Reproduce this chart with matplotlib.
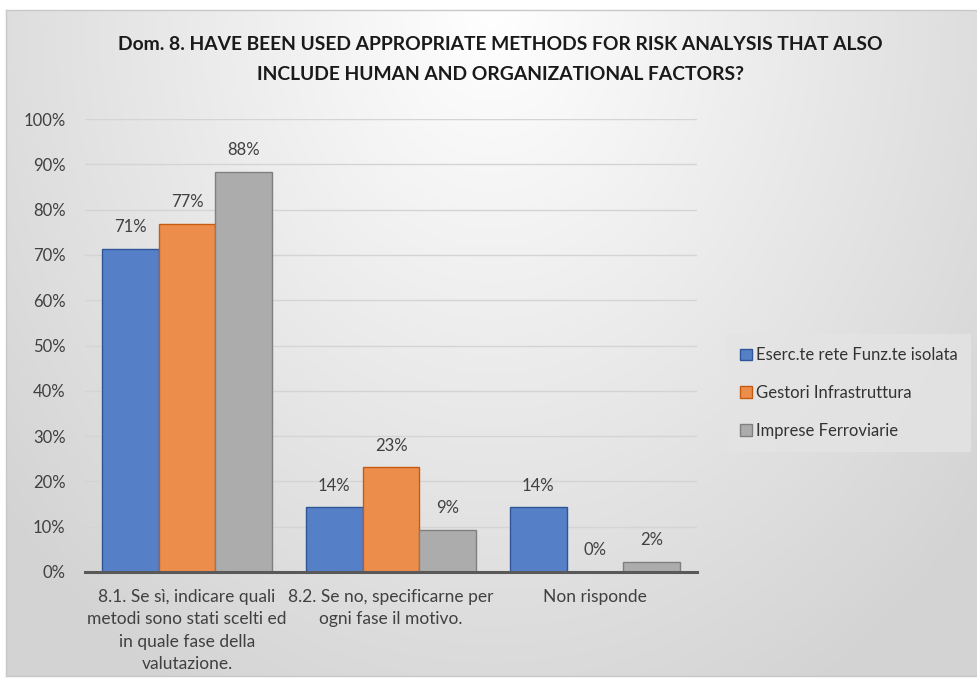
import matplotlib
matplotlib.use("Agg")
import matplotlib.pyplot as plt
import numpy as np

plt.rcParams['font.family'] = ['Lato', 'DejaVu Sans']

# ─── data ───
categories = [
    "8.1. Se sì, indicare quali\nmetodi sono stati scelti ed\nin quale fase della\nvalutazione.",
    "8.2. Se no, specificarne per\nogni fase il motivo.",
    "Non risponde",
]
series_names = ["Eserc.te rete Funz.te isolata", "Gestori Infrastruttura", "Imprese Ferroviarie"]
eserc = [71.4, 14.3, 14.3]
gestori = [76.9, 23.1, 0.0]
imprese = [88.4, 9.3, 2.3]
yticks = list(range(0, 101, 10))

colors = ['#5580C8', '#ED8D4B', '#ACACAC']
edges = ['#2F5597', '#C55A11', '#7F7F7F']

fig = plt.figure(figsize=(9.78, 6.84), dpi=100)
fig.patch.set_facecolor('white')

# radial gradient background of the chart area
bg = fig.add_axes([6 / 978, 8 / 684, 972 / 978, 666 / 684], zorder=-5)
gx, gy = np.meshgrid(np.linspace(-1, 1, 400), np.linspace(0, 1, 300))
r = np.sqrt(gx ** 2 + (gy * 1.1) ** 2)
shade = 1.0 - 0.17 * np.clip(r / 1.3, 0, 1)
bg.imshow(np.dstack([shade, shade, shade]), aspect='auto', origin='upper',
          extent=[0, 1, 0, 1], interpolation='bilinear')
bg.set_xticks([])
bg.set_yticks([])
for s in bg.spines.values():
    s.set_color('#c8c8c8')
    s.set_linewidth(1)

ax = fig.add_axes([85 / 978, 1 - 572 / 684, 612 / 978, 453 / 684])
ax.set_facecolor('none')

x = np.arange(len(categories))
w = 0.279
for i, (vals, name) in enumerate(zip([eserc, gestori, imprese], series_names)):
    pos = x + (i - 1) * w
    ax.bar(pos, vals, width=w, color=colors[i], edgecolor=edges[i], linewidth=1,
           label=name, zorder=3)
    for px, v in zip(pos, vals):
        ax.text(px, v + 3.0, f"{round(v)}%", ha='center', va='bottom',
                fontsize=12, color='#404040')

ax.set_xlim(-0.5, 2.5)
ax.set_ylim(0, 100)
ax.set_yticks(yticks)
ax.set_yticklabels([f"{t}%" for t in yticks], fontsize=12, color='#404040')
ax.set_xticks(x)
ax.set_xticklabels(categories, fontsize=12.5, color='#404040', linespacing=1.5)
ax.tick_params(axis='both', length=0)
ax.tick_params(axis='x', pad=12)
ax.tick_params(axis='y', pad=14)
ax.grid(axis='y', color='#d4d4d4', linewidth=1, zorder=0)
for s in ['top', 'right', 'left']:
    ax.spines[s].set_visible(False)
ax.spines['bottom'].set_color('#595959')
ax.spines['bottom'].set_linewidth(2.2)
ax.spines['bottom'].set_zorder(4)

fig.text(0.512, 1 - 45 / 684, "Dom. 8. HAVE BEEN USED APPROPRIATE METHODS FOR RISK ANALYSIS THAT ALSO",
         ha='center', va='center', fontsize=13.9, fontweight='bold', color='#1a1a1a')
fig.text(0.512, 1 - 75 / 684, "INCLUDE HUMAN AND ORGANIZATIONAL FACTORS?",
         ha='center', va='center', fontsize=13.9, fontweight='bold', color='#1a1a1a')

leg = fig.legend(loc='center left', bbox_to_anchor=(727 / 978, 1 - 393 / 684),
                 fontsize=12, frameon=True, fancybox=False, handlelength=0.7,
                 handleheight=0.7, handletextpad=0.25, labelspacing=1.3,
                 borderpad=0.8, borderaxespad=0)
leg.get_frame().set_facecolor('#e4e4e4')
leg.get_frame().set_edgecolor('none')
for t in leg.get_texts():
    t.set_color('#333333')

fig.savefig('out.png', dpi=100, facecolor='white')
